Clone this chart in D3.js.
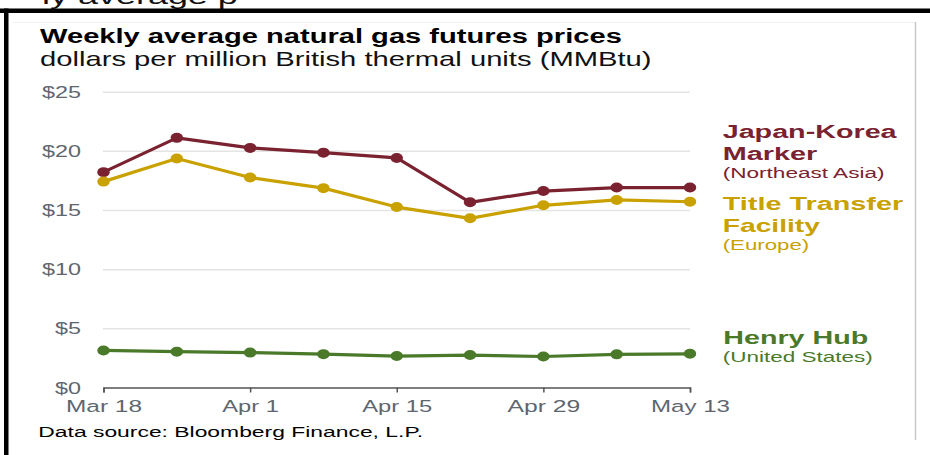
<!DOCTYPE html>
<html><head><meta charset="utf-8">
<script src="https://cdn.jsdelivr.net/npm/d3@7"></script>
<style>
html,body{margin:0;padding:0;background:#fff;}
svg{display:block;}
text{font-family:"Liberation Sans",Arial,sans-serif;}
</style></head>
<body>
<svg id="chart" width="930" height="455"></svg>
<script>
// ---- data ----
const weeks = ["2024-03-18","2024-03-25","2024-04-01","2024-04-08","2024-04-15","2024-04-22","2024-04-29","2024-05-06","2024-05-13"];
const jkmValues = [18.2, 21.1, 20.25, 19.85, 19.4, 15.65, 16.6, 16.9, 16.9];
const ttfValues = [17.4, 19.35, 17.75, 16.85, 15.25, 14.3, 15.4, 15.85, 15.7];
const henryHubValues = [3.13, 3.03, 2.95, 2.82, 2.66, 2.74, 2.62, 2.8, 2.85];
const xTickDates = ["2024-03-18","2024-04-01","2024-04-15","2024-04-29","2024-05-13"];
const xTickLabels = ["Mar 18","Apr 1","Apr 15","Apr 29","May 13"];
const yTickValues = [0, 5, 10, 15, 20, 25];
const yTickLabels = ["$0","$5","$10","$15","$20","$25"];
const seriesNames = ["Japan-Korea Marker", "Title Transfer Facility", "Henry Hub"];

const parse = d3.timeParse("%Y-%m-%d");
const svg = d3.select("#chart");

const colors = {jkm:"#7a2230", ttf:"#c9a100", hh:"#4a792a"};

const x = d3.scaleTime().domain([parse(weeks[0]), parse(weeks[weeks.length-1])]).range([103.5, 690]);
const y = d3.scaleLinear().domain([0, 25]).range([387.5, 91.7]);

function fit(sel, targetW){
  const w = sel.node().getComputedTextLength();
  return targetW / w;
}
function addText(txt, px, py, opts){
  const t = svg.append("text").text(txt)
    .attr("font-size", opts.size).attr("font-weight", opts.weight||"normal")
    .attr("fill", opts.color||"#000");
  const k = opts.width ? fit(t, opts.width) : 1;
  t.attr("transform", `translate(${px},${py}) scale(${k},1)`);
  return t;
}

// frame / screenshot remnants
addText("ly average p", 42, 4, {size:22, width:196, color:"#111"});
svg.append("rect").attr("x",0).attr("y",8.5).attr("width",930).attr("height",4.5).attr("fill","#000");
svg.append("rect").attr("x",4).attr("y",8.5).attr("width",4.5).attr("height",447).attr("fill","#000");
svg.append("line").attr("x1",12).attr("x2",915).attr("y1",22.5).attr("y2",22.5).attr("stroke","#f3f3f3").attr("stroke-width",1);
svg.append("line").attr("x1",915.5).attr("x2",915.5).attr("y1",22).attr("y2",440).attr("stroke","#c8c8c8").attr("stroke-width",1.5);

// titles
addText("Weekly average natural gas futures prices", 40, 43, {size:21, weight:"bold", width:582});
addText("dollars per million British thermal units (MMBtu)", 40, 66, {size:20, width:612, color:"#111"});

// y grid + labels
const yAxis = d3.axisLeft(y).tickValues(yTickValues)
  .tickFormat((d,i)=>yTickLabels[i]).tickSize(-(690-103)).tickPadding(0);
const gy = svg.append("g").attr("transform","translate(103,0)").call(yAxis);
gy.select(".domain").remove();
gy.selectAll(".tick line").attr("stroke","#e4e4e4").attr("stroke-width",1.5)
  .filter(d=>d===0).remove();
gy.selectAll(".tick text").attr("x",0).attr("dy",null).attr("y",5.5)
  .attr("font-size",16).attr("fill","#5e6670").attr("font-family","Liberation Sans, Arial, sans-serif")
  .attr("text-anchor","end")
  .each(function(d){
    const k = (d>=10 ? 39 : 26) / this.getComputedTextLength();
    d3.select(this).attr("transform",`translate(-22,0) scale(${k},1)`);
  });

// x axis
const xAxis = d3.axisBottom(x).tickValues(xTickDates.map(parse))
  .tickFormat((d,i)=>xTickLabels[i]).tickSizeInner(5).tickSizeOuter(5).tickPadding(4);
const gx = svg.append("g").attr("transform","translate(0,387.5)").call(xAxis);
gx.select(".domain").attr("stroke","#555").attr("stroke-width",1.5);
gx.selectAll(".tick line").attr("stroke","#555").attr("stroke-width",1.5);
const xLabelW = [76, 56.7, 70, 72.7, 79];
gx.selectAll(".tick text").attr("font-size",16.5).attr("fill","#5e6670")
  .attr("font-family","Liberation Sans, Arial, sans-serif").attr("dy",null).attr("y",25)
  .each(function(d,i){
    const k = xLabelW[i] / this.getComputedTextLength();
    d3.select(this).attr("transform",`scale(${k},1)`);
  });

// series
const series = [
  {key:"jkm", values:jkmValues},
  {key:"ttf", values:ttfValues},
  {key:"hh", values:henryHubValues}
];
const line = d3.line().x(d=>x(d.date)).y(d=>y(d.v));
series.forEach(s=>{
  const pts = weeks.map((w,i)=>({date:parse(w), v:s.values[i]}));
  svg.append("path").datum(pts).attr("d",line).attr("fill","none")
    .attr("stroke",colors[s.key]).attr("stroke-width",3.2).attr("stroke-linejoin","round");
  svg.append("g").selectAll("ellipse").data(pts).join("ellipse")
    .attr("cx",d=>x(d.date)).attr("cy",d=>y(d.v)).attr("rx",6.2).attr("ry",5)
    .attr("fill",colors[s.key]);
});

// series labels
addText("Japan-Korea", 722.7, 138, {size:18.5, weight:"bold", width:174, color:colors.jkm});
addText("Marker", 722.7, 160, {size:18.5, weight:"bold", width:94.6, color:colors.jkm});
addText("(Northeast Asia)", 722.7, 177.5, {size:15, width:162, color:colors.jkm});
addText("Title Transfer", 722.7, 210, {size:18.5, weight:"bold", width:180.6, color:colors.ttf});
addText("Facility", 722.7, 231.7, {size:18.5, weight:"bold", width:97.3, color:colors.ttf});
addText("(Europe)", 722.7, 249.5, {size:15, width:86.6, color:colors.ttf});
addText("Henry Hub", 723.3, 344.3, {size:19, weight:"bold", width:145, color:colors.hh});
addText("(United States)", 722.7, 361.5, {size:15, width:150, color:colors.hh});

// source
addText("Data source: Bloomberg Finance, L.P.", 38.3, 437, {size:15.5, width:385, color:"#000"});
</script>
</body></html>
